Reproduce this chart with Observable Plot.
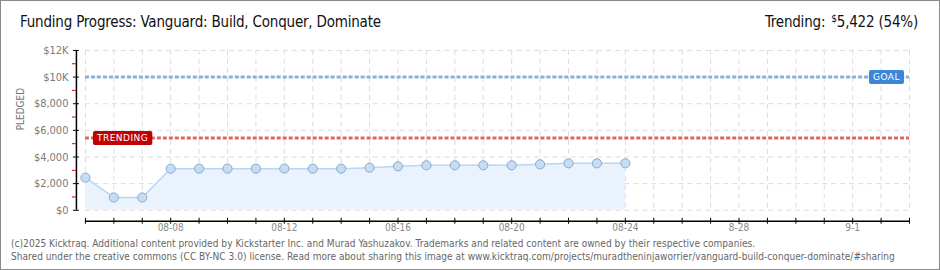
<!DOCTYPE html>
<html>
<head>
<meta charset="utf-8">
<script src="https://cdn.jsdelivr.net/npm/d3@7"></script>
<script src="https://cdn.jsdelivr.net/npm/@observablehq/plot@0.6"></script>
<style>
  html, body { margin: 0; padding: 0; background: #fff; }
  #wrap { position: relative; width: 940px; height: 270px; box-sizing: border-box; border: 1px solid #8a8a8a; overflow: hidden; background: #fff; }
  #title { position: absolute; left: 19px; top: 12px; font: 15px "DejaVu Sans Condensed", "DejaVu Sans", sans-serif; color: #111; letter-spacing: -0.2px; }
  #trend { position: absolute; right: 21px; top: 12px; font: 15px "DejaVu Sans Condensed", "DejaVu Sans", sans-serif; color: #111; letter-spacing: -0.2px; }
  #trend sup { font-size: 10px; vertical-align: 5px; margin-left: 6px; }
  #foot { position: absolute; left: 10px; top: 236px; font: 10px "DejaVu Sans Condensed", "DejaVu Sans", sans-serif; color: #666; line-height: 13px; letter-spacing: 0.05px; }
  #chart { position: absolute; left: -1px; top: -1px; }
</style>
</head>
<body>
<div id="wrap">
  <div id="chart"></div>
  <div id="title"></div>
  <div id="trend"></div>
  <div id="foot"></div>
</div>
<script>
// ---- data ----
const titleText = "Funding Progress: Vanguard: Build, Conquer, Dominate";
const trendingValue = 5422;
const trendingPct = 54;
const goalValue = 10000;
const dates = ["2025-08-05","2025-08-06","2025-08-07","2025-08-08","2025-08-09","2025-08-10","2025-08-11","2025-08-12","2025-08-13","2025-08-14","2025-08-15","2025-08-16","2025-08-17","2025-08-18","2025-08-19","2025-08-20","2025-08-21","2025-08-22","2025-08-23","2025-08-24"];
const pledged = [2450, 960, 960, 3125, 3125, 3125, 3125, 3125, 3125, 3125, 3200, 3300, 3375, 3375, 3375, 3375, 3450, 3525, 3525, 3525];
const xDomain = ["2025-08-05", "2025-09-03"];
const xTickDates = ["2025-08-08","2025-08-12","2025-08-16","2025-08-20","2025-08-24","2025-08-28","2025-09-01"];
const xTickLabels = ["08-08","08-12","08-16","08-20","08-24","8-28","9-1"];
const yTicks = [0, 2000, 4000, 6000, 8000, 10000, 12000];
const yTickLabels = ["$0","$2,000","$4,000","$6,000","$8,000","$10K","$12K"];
const yMinorTicks = [1000, 3000, 5000, 7000, 9000, 11000];
const footLines = [
  "(c)2025 Kicktraq. Additional content provided by Kickstarter Inc. and Murad Yashuzakov. Trademarks and related content are owned by their respective companies.",
  "Shared under the creative commons (CC BY-NC 3.0) license. Read more about sharing this image at www.kicktraq.com/projects/muradtheninjaworrier/vanguard-build-conquer-dominate/#sharing"
];

// ---- header/footer ----
document.getElementById("title").textContent = titleText;
document.getElementById("trend").innerHTML = `Trending:<sup>$</sup>${d3.format(",")(trendingValue)} (${trendingPct}%)`;
document.getElementById("foot").innerHTML = footLines.map(l => `<div>${l}</div>`).join("");

const parse = d3.utcParse("%Y-%m-%d");
const data = dates.map((d, i) => ({date: parse(d), value: pledged[i]}));
const dom = xDomain.map(parse);
const days = d3.utcDay.range(dom[0], d3.utcDay.offset(dom[1], 1));
const labelDates = xTickDates.map(parse);

// label box mark (positioned from the y scale)
const mctx = document.createElement("canvas").getContext("2d");
function labelBox(value, text, fill, side, offset) {
  return (index, scales, values, dims) => {
    const font = "9px 'DejaVu Sans'";
    const ls = 0.5;
    mctx.font = font;
    const tw = mctx.measureText(text).width + ls * text.length;
    const w = tw + 8, h = 14;
    const yy = scales.y(value);
    const x0 = side === "right" ? dims.width - dims.marginRight - offset - w : dims.marginLeft + offset;
    const g = d3.create("svg:g");
    g.append("rect").attr("x", x0).attr("y", yy - h / 2 + 0.5).attr("width", w).attr("height", h)
      .attr("rx", 2).attr("fill", fill);
    g.append("text").attr("x", x0 + w / 2).attr("y", yy + 0.5).attr("dy", "0.35em")
      .attr("text-anchor", "middle").attr("fill", "#fff")
      .style("font", font).style("letter-spacing", ls + "px").text(text);
    return g.node();
  };
}

const chart = Plot.plot({
  width: 940,
  height: 270,
  marginLeft: 85,
  marginRight: 30,
  marginTop: 50,
  marginBottom: 60,
  style: {background: "transparent", fontFamily: "'DejaVu Sans Condensed', 'DejaVu Sans', sans-serif"},
  x: {type: "utc", domain: dom},
  y: {domain: [0, 12000]},
  marks: [
    Plot.ruleX(days, {stroke: "#dcdcdc", strokeDasharray: "5,4"}),
    Plot.ruleY(yTicks, {stroke: "#dcdcdc", strokeDasharray: "5,4"}),
    Plot.areaY(data, {x: "date", y: "value", fill: "#eaf3fd"}),
    Plot.lineY(data, {x: "date", y: "value", stroke: "#b9d6f4", strokeWidth: 1.5}),
    Plot.ruleY([goalValue], {stroke: "#8cb0dc", strokeWidth: 3, strokeDasharray: "4,2"}),
    Plot.ruleY([trendingValue], {stroke: "#df6464", strokeWidth: 3, strokeDasharray: "4,2"}),
    Plot.dot(data, {x: "date", y: "value", r: 4.6, fill: "#c3ddf7", stroke: "#8ea7c4", strokeWidth: 1}),
    labelBox(goalValue, "GOAL", "#3c86d8", "right", 5),
    labelBox(trendingValue, "TRENDING", "#c20000", "left", 8),
    // y axis
    Plot.ruleX([dom[0]], {y1: 0, y2: 12000, dx: -9, stroke: "#000", strokeWidth: 1.5}),
    Plot.axisY(yMinorTicks, {tickSize: 4, dx: -9, stroke: "#e00000", tickFormat: () => "", label: null}),
    Plot.axisY(yTicks, {tickSize: 6, dx: -6, tickPadding: 5, stroke: "#000", fill: "#7a7a7a", fontSize: 11,
      tickFormat: (d) => yTickLabels[yTicks.indexOf(d)], label: null}),
    Plot.text(["PLEDGED"], {frameAnchor: "left", dx: -65, rotate: -90, fill: "#777", fontSize: 10, text: d => d,
      style: "letter-spacing: 1.6px"}),
    // x axis
    Plot.ruleY([0], {dy: 11, stroke: "#000", strokeWidth: 1.5}),
    Plot.axisX(days, {tickSize: 6, dy: 8, stroke: "#000", tickFormat: () => "", label: null}),
    Plot.axisX(labelDates, {tickSize: 0, tickPadding: 0, dy: 14, fill: "#888", fontSize: 10,
      tickFormat: (d) => xTickLabels[labelDates.findIndex(v => +v === +d)], label: null})
  ]
});
document.getElementById("chart").appendChild(chart);
</script>
</body>
</html>
